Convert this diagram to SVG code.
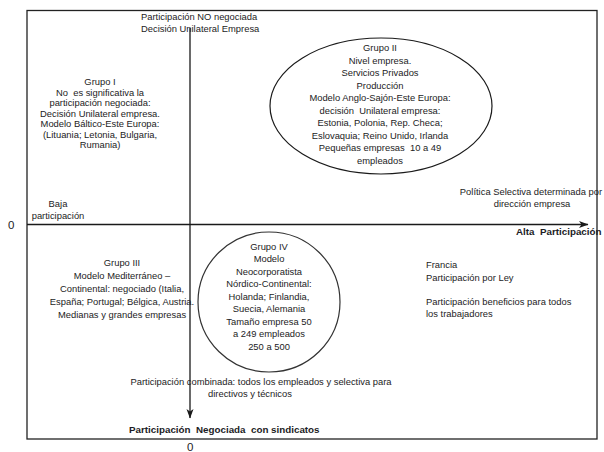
<svg xmlns="http://www.w3.org/2000/svg" width="604" height="452" viewBox="0 0 604 452">
<style>
text{font-family:"Liberation Sans",Arial,sans-serif;font-size:9.4px;fill:#1c1c24;white-space:pre}
.c{text-anchor:middle}
.b{font-weight:bold;font-size:9.8px}
.z{font-size:11.5px}
.ax{stroke:#1a1a1a;stroke-width:1.3;fill:none}
</style>
<defs>
<marker id="arr" viewBox="0 0 10 8" refX="9" refY="4" markerWidth="10" markerHeight="8" markerUnits="userSpaceOnUse" orient="auto">
<path d="M0,0.5 L9.5,4 L0,7.5 L2.5,4 z" fill="#1a1a1a"/>
</marker>
</defs>
<rect width="604" height="452" fill="#fff"/>
<rect id="frame" x="27" y="10.5" width="570" height="428.5" fill="none" stroke="#222" stroke-width="1.3"/>
<g id="connectors">
<line class="ax" x1="27" y1="224.5" x2="588" y2="224.5" stroke="#444" stroke-width="1.6" marker-end="url(#arr)"/>
<line class="ax" x1="190" y1="28" x2="190" y2="418" marker-end="url(#arr)"/>
</g>
<g id="axis-labels">
<text x="141" y="20">Participación NO negociada</text>
<text x="141" y="32">Decisión Unilateral Empresa</text>
<text class="c" x="58" y="207">Baja</text>
<text class="c" x="58" y="219">participación</text>
<text class="z" x="8" y="228.5">0</text>
<text class="b" x="516" y="235">Alta  Participación</text>
<text class="b" x="129" y="433">Participación  Negociada  con sindicatos</text>
<text class="z" x="187" y="451">0</text>
</g>
<g id="grupo1">
<text class="c" x="100" y="85">Grupo I</text>
<text class="c" x="100" y="95.5">No  es significativa la</text>
<text class="c" x="100" y="106">participación negociada:</text>
<text class="c" x="100" y="116.5">Decisión Unilateral empresa.</text>
<text class="c" x="100" y="127">Modelo Báltico-Este Europa:</text>
<text class="c" x="100" y="137.5">(Lituania; Letonia, Bulgaria,</text>
<text class="c" x="100" y="148">Rumania)</text>
</g>
<g id="grupo2">
<ellipse cx="381" cy="106" rx="111" ry="68" fill="none" stroke="#1a1a1a" stroke-width="1.2"/>
<text class="c" x="380" y="51">Grupo II</text>
<text class="c" x="380" y="63.5">Nivel empresa.</text>
<text class="c" x="380" y="76">Servicios Privados</text>
<text class="c" x="380" y="88.5">Producción</text>
<text class="c" x="380" y="101">Modelo Anglo-Sajón-Este Europa:</text>
<text class="c" x="380" y="113.5">decisión  Unilateral empresa:</text>
<text class="c" x="380" y="126">Estonia, Polonia, Rep. Checa;</text>
<text class="c" x="380" y="138.5">Eslovaquia; Reino Unido, Irlanda</text>
<text class="c" x="380" y="151">Pequeñas empresas  10 a 49</text>
<text class="c" x="380" y="163.5">empleados</text>
</g>
<g id="politica">
<text class="c" x="531" y="195">Política Selectiva determinada por</text>
<text class="c" x="532" y="207">dirección empresa</text>
</g>
<g id="grupo3">
<text class="c" x="122" y="265.5">Grupo III</text>
<text class="c" x="122" y="278.5">Modelo Mediterráneo –</text>
<text class="c" x="122" y="291.5">Continental: negociado (Italia,</text>
<text class="c" x="122" y="304.5">España; Portugal; Bélgica, Austria.</text>
<text class="c" x="122" y="317.5">Medianas y grandes empresas</text>
</g>
<g id="grupo4">
<ellipse cx="269" cy="302" rx="71" ry="70" fill="none" stroke="#333" stroke-width="1.2"/>
<text class="c" x="269" y="249.5">Grupo IV</text>
<text class="c" x="269" y="262">Modelo</text>
<text class="c" x="269" y="274.5">Neocorporatista</text>
<text class="c" x="269" y="287">Nórdico-Continental:</text>
<text class="c" x="269" y="299.5">Holanda; Finlandia,</text>
<text class="c" x="269" y="312">Suecia, Alemania</text>
<text class="c" x="269" y="324.5">Tamaño empresa 50</text>
<text class="c" x="269" y="337">a 249 empleados</text>
<text class="c" x="269" y="349.5">250 a 500</text>
</g>
<g id="francia">
<text x="426" y="268">Francia</text>
<text x="426" y="280.5">Participación por Ley</text>
<text x="426" y="305">Participación beneficios para todos</text>
<text x="426" y="316.5">los trabajadores</text>
</g>
<g id="combinada">
<text class="c" x="261" y="384.5">Participación combinada: todos los empleados y selectiva para</text>
<text class="c" x="250" y="397">directivos y técnicos</text>
</g>
</svg>
